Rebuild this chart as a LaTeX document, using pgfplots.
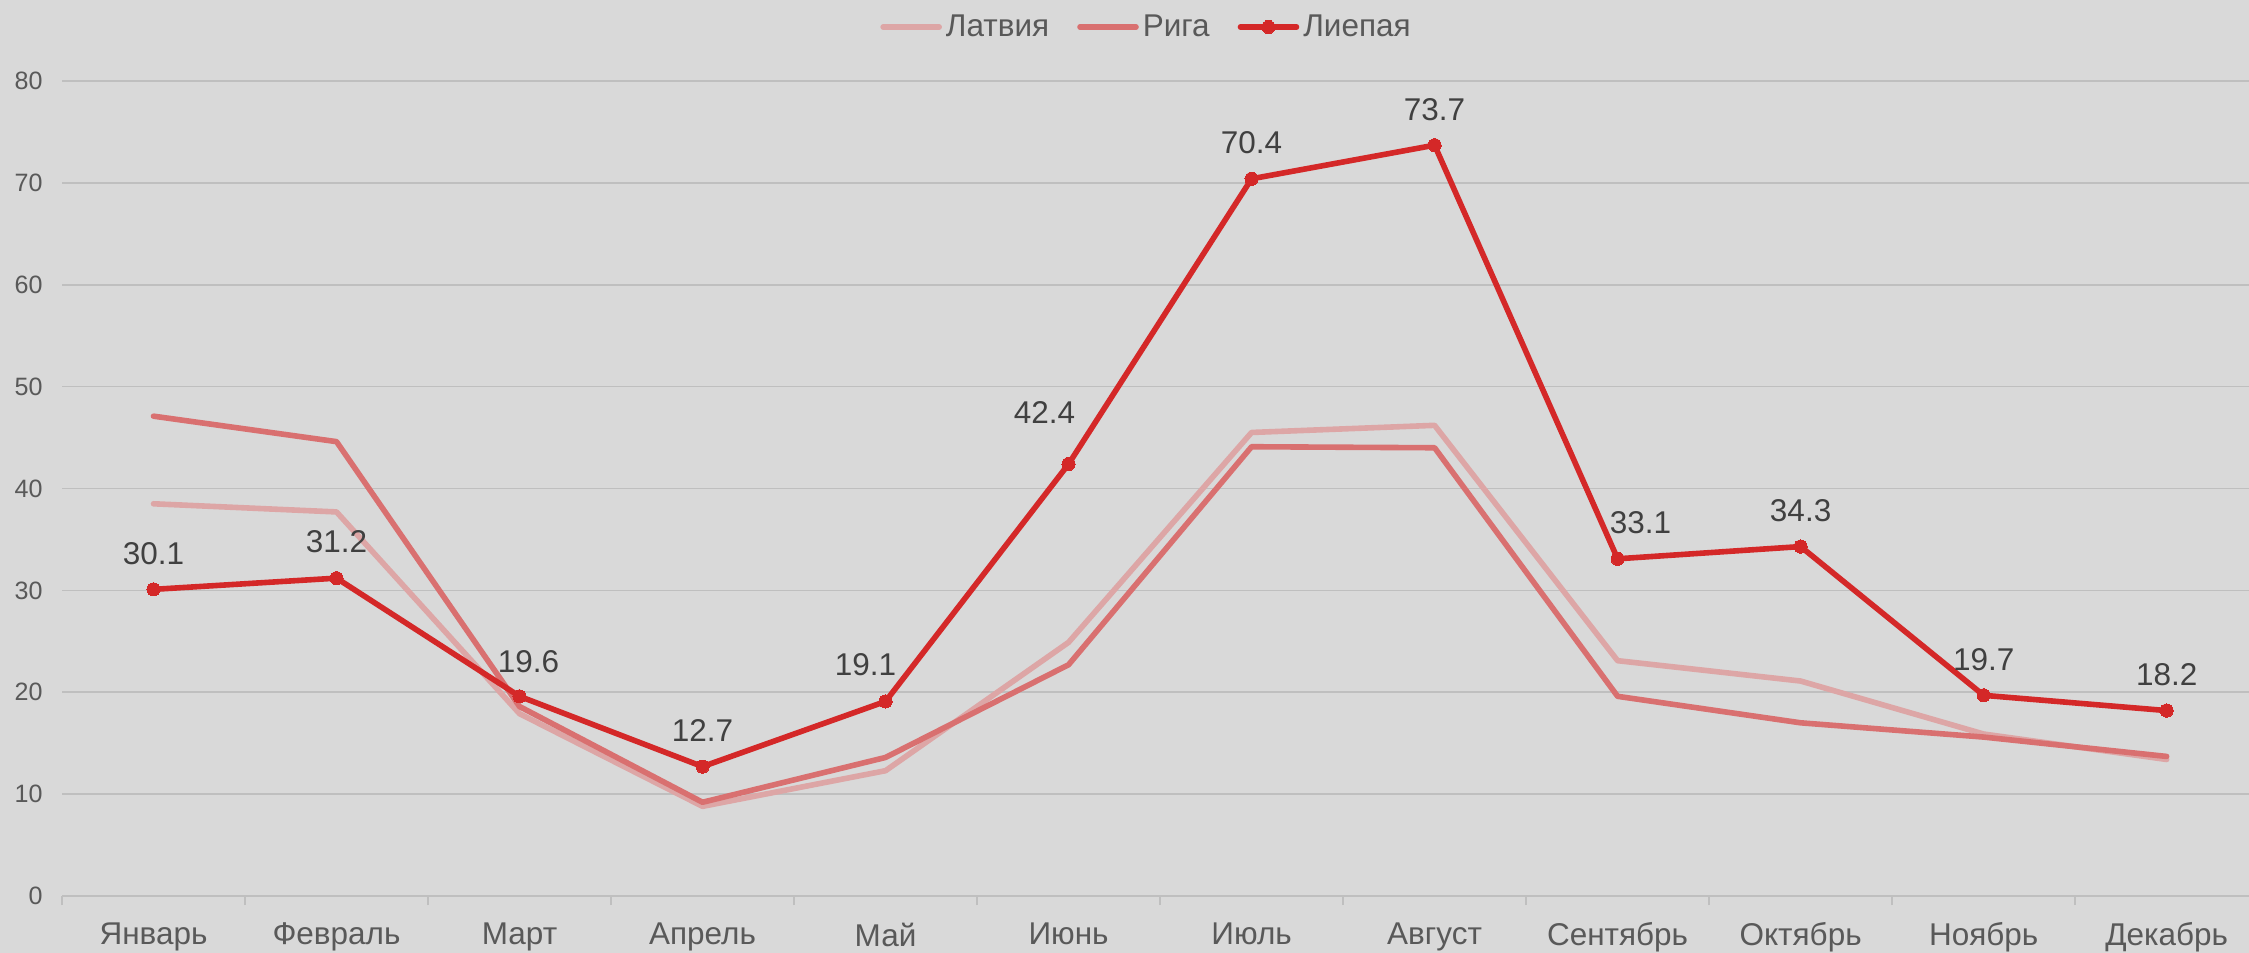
\documentclass[border=0pt]{standalone}
\usepackage{pgfplots}
\pgfplotsset{compat=1.18}
\usepackage{pgfplotstable}
\usepackage{fontspec}
\setmainfont{Liberation Sans}
\definecolor{bg}{RGB}{217,217,217}
\definecolor{gridc}{RGB}{191,191,191}
\definecolor{tickc}{RGB}{89,89,89}
\definecolor{labc}{RGB}{64,64,64}
\definecolor{liep}{RGB}{212,40,40}
\definecolor{riga}{RGB}{217,112,112}
\definecolor{latv}{RGB}{221,166,166}

\pgfplotstableread{
x y
0 38.5
1 37.7
2 17.9
3 8.8
4 12.3
5 24.9
6 45.5
7 46.2
8 23.1
9 21.1
10 15.9
11 13.4
}\latvia

\pgfplotstableread{
x y
0 47.1
1 44.6
2 18.6
3 9.2
4 13.6
5 22.7
6 44.1
7 44.0
8 19.6
9 17.0
10 15.6
11 13.7
}\riga

\pgfplotstableread{
x y dx dy
0 30.1 0 18
1 31.2 0 18
2 19.6 4.5 17.5
3 12.7 0 18
4 19.1 -10 18.5
5 42.4 -12 26
6 70.4 0 18
7 73.7 0 18
8 33.1 11.5 18
9 34.3 0 18
10 19.7 0 18
11 18.2 0 18
}\liepaja

\begin{document}
\begin{tikzpicture}
\fill[bg] (0,0) rectangle (1124.5bp,476.5bp);
\useasboundingbox (0,0) rectangle (1124.5bp,476.5bp);
\begin{axis}[
  at={(31bp,28.5bp)}, anchor=south west,
  scale only axis, width=1093.5bp, height=407.5bp,
  xmin=-0.5, xmax=11.45, ymin=0, ymax=80,
  ytick={0,10,...,80},
  xtick={0,...,11},
  xticklabels={Январь,Февраль,Март,Апрель,Май,Июнь,Июль,Август,Сентябрь,Октябрь,Ноябрь,Декабрь},
  minor xtick={-0.5,0.5,...,10.5},
  axis y line*=left,
  axis x line*=bottom,
  y axis line style={draw=none},
  x axis line style={draw=gridc, line width=1bp, -},
  ymajorgrids,
  major grid style={draw=gridc, line width=0.8bp},
  major tick style={draw=none},
  minor x tick style={draw=gridc, line width=0.8bp},
  minor tick length=4.5bp,
  tick align=outside,
  xticklabel style={font=\fontsize{15.8}{18}\selectfont, text=tickc, inner sep=0pt, anchor=north, yshift=-9bp},
  yticklabel style={font=\fontsize{12.6}{15}\selectfont, text=tickc, inner sep=0pt, anchor=east, xshift=-5.3bp},
  /pgf/number format/assume math mode=true,
  legend columns=3,
  legend style={at={(axis description cs:0.5,1)}, anchor=center, xshift=-4bp, yshift=27bp,
    draw=none, fill=none, font=\fontsize{15.8}{18}\selectfont, text=tickc,
    nodes={inner xsep=2bp, inner ysep=0pt},
    /tikz/every even column/.append style={column sep=12bp}},
  legend image code/.code={\draw[mark repeat=2,mark phase=2] plot coordinates {(0bp,0bp) (14bp,0bp) (28bp,0bp)};},
  clip=false,
]
\addplot[latv, line width=2.8bp, line join=round, line cap=round, no markers] table[x=x,y=y] {\latvia};
\addlegendentry{Латвия}
\addplot[riga, line width=2.8bp, line join=round, line cap=round, no markers] table[x=x,y=y] {\riga};
\addlegendentry{Рига}
\addplot[liep, line width=2.8bp, line join=round, line cap=round, mark=*, mark size=3.3bp,
  mark options={solid, fill=liep, draw=liep, line width=0pt},
  nodes near coords, point meta=explicit symbolic,
  visualization depends on={\thisrow{dx} \as \dx},
  visualization depends on={\thisrow{dy} \as \dy},
  nodes near coords style={anchor=center, xshift=\dx bp, yshift=\dy bp, inner sep=0pt,
    font=\fontsize{15.8}{18}\selectfont, text=labc}]
  table[x=x,y=y,meta=y] {\liepaja};
\addlegendentry{Лиепая}
\end{axis}
\end{tikzpicture}
\end{document}
